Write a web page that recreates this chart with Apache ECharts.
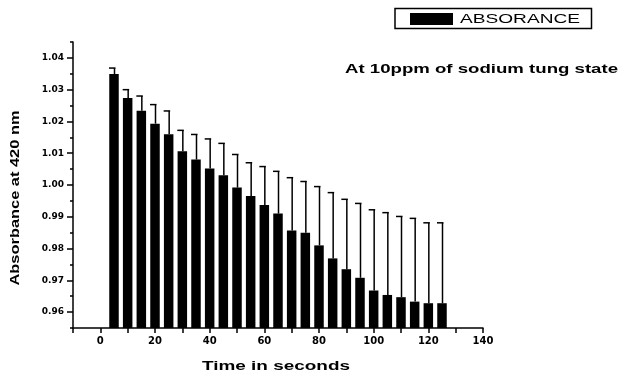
<!DOCTYPE html>
<html>
<head>
<meta charset="utf-8">
<script src="https://cdn.jsdelivr.net/npm/echarts@6/dist/echarts.min.js"></script>
<style>
    html, body { margin: 0; padding: 0; background: #fff; }
    #main { width: 620px; height: 373px; }
</style>
</head>
<body>
<div id="main"></div>
<script>
// time in seconds
var times = [5, 10, 15, 20, 25, 30, 35, 40, 45, 50, 55, 60, 65, 70, 75, 80, 85, 90, 95, 100, 105, 110, 115, 120, 125]
// absorbance at 420 nm
var absorbance = [1.0349, 1.0274, 1.0234, 1.0193, 1.0160, 1.0106, 1.0080, 1.0052, 1.0031, 0.9992, 0.9965, 0.9937, 0.9910,
    0.9857, 0.9850, 0.9810, 0.9769, 0.9735, 0.9708, 0.9668, 0.9654, 0.9647, 0.9633, 0.9628, 0.9628]
// upper error bar
var absorbanceError = [0.0019, 0.0026, 0.0046, 0.0060, 0.0073, 0.0066, 0.0079, 0.0093, 0.0100, 0.0104, 0.0105, 0.0121, 0.0133,
    0.0166, 0.0161, 0.0185, 0.0207, 0.0220, 0.0234, 0.0254, 0.0259, 0.0254, 0.0262, 0.0253, 0.0253]

var xTicks = [-10, 0, 10, 20, 30, 40, 50, 60, 70, 80, 90, 100, 110, 120, 130, 140]
var xLabels = [0, 20, 40, 60, 80, 100, 120, 140]
var yTicks = [0.96, 0.97, 0.98, 0.99, 1.00, 1.01, 1.02, 1.03, 1.04]
var yMinorTicks = [0.955, 0.965, 0.975, 0.985, 0.995, 1.005, 1.015, 1.025, 1.035, 1.045]

var legendName = 'ABSORANCE'
var xTitle = 'Time in seconds'
var yTitle = 'Absorbance at 420 nm'
var note = 'At 10ppm of sodium tung state'

var measure = document.createElement('canvas').getContext('2d')
// stretch a text horizontally so that it fills the given width
function stretch(text, font, width) {
    measure.font = font
    return width / measure.measureText(text).width
}

var titleFont = 'Liberation Sans'
var myChart = echarts.init(document.getElementById('main'))

myChart.setOption({
    animation: false,
    grid: { left: 73, right: 137, top: 42, bottom: 45, outerBoundsMode: 'none' },
    xAxis: {
        type: 'value',
        min: -10,
        max: 140,
        splitLine: { show: false },
        axisLine: { onZero: false, lineStyle: { color: '#000', width: 1.5 } },
        axisTick: { show: true, length: 5, customValues: xTicks, lineStyle: { color: '#000', width: 1.5 } },
        axisLabel: { customValues: xLabels, color: '#000', fontSize: 10, fontWeight: 'bold', fontFamily: 'DejaVu Sans', margin: 8 }
    },
    yAxis: [
        {
            type: 'value',
            min: 0.955,
            max: 1.045,
            splitLine: { show: false },
            axisLine: { show: true, onZero: false, lineStyle: { color: '#000', width: 1.5 } },
            axisTick: { show: true, length: 6, customValues: yTicks, lineStyle: { color: '#000', width: 1.5 } },
            axisLabel: {
                customValues: yTicks,
                formatter: function (v) { return v.toFixed(2) },
                color: '#000', fontSize: 9, fontWeight: 'bold', fontFamily: 'DejaVu Sans', margin: 9
            }
        },
        {
            // minor ticks only
            type: 'value',
            min: 0.955,
            max: 1.045,
            position: 'left',
            splitLine: { show: false },
            axisLine: { show: false, onZero: false },
            axisTick: { show: true, length: 3, customValues: yMinorTicks, lineStyle: { color: '#000', width: 1.5 } },
            axisLabel: { show: false }
        }
    ],
    graphic: [
        // legend box
        {
            type: 'rect', shape: { x: 395, y: 8.5, width: 196.5, height: 20 },
            style: { fill: '#fff', stroke: '#000', lineWidth: 1.5 }
        },
        {
            type: 'rect', shape: { x: 410, y: 13, width: 43, height: 12 },
            style: { fill: '#000' }
        },
        {
            type: 'text', x: 460, y: 19,
            scaleX: stretch(legendName, '13px ' + titleFont, 120),
            style: { text: legendName, fill: '#000', fontSize: 13, fontFamily: titleFont, align: 'left', verticalAlign: 'middle' }
        },
        {
            type: 'text', x: 345, y: 70,
            scaleX: stretch(note, 'bold 12px ' + titleFont, 273),
            style: { text: note, fill: '#000', fontSize: 12, fontWeight: 'bold', fontFamily: titleFont, align: 'left', verticalAlign: 'middle' }
        },
        {
            type: 'text', x: 202, y: 366,
            scaleX: stretch(xTitle, 'bold 13px ' + titleFont, 148),
            style: { text: xTitle, fill: '#000', fontSize: 13, fontWeight: 'bold', fontFamily: titleFont, align: 'left', verticalAlign: 'middle' }
        },
        {
            type: 'text', x: 15, y: 198, rotation: Math.PI / 2,
            scaleX: stretch(yTitle, 'bold 13px ' + titleFont, 175),
            style: { text: yTitle, fill: '#000', fontSize: 13, fontWeight: 'bold', fontFamily: titleFont, align: 'center', verticalAlign: 'middle' }
        }
    ],
    series: [
        {
            name: legendName,
            type: 'bar',
            barWidth: 9.5,
            clip: true,
            itemStyle: { color: '#000' },
            data: times.map(function (t, i) { return [t, absorbance[i]] })
        },
        {
            name: 'error',
            type: 'custom',
            clip: true,
            encode: { x: 0, y: 1 },
            renderItem: function (params, api) {
                var base = api.coord([api.value(0), api.value(1)])
                var top = api.coord([api.value(0), api.value(1) + api.value(2)])
                return {
                    type: 'group',
                    children: [
                        { type: 'line', shape: { x1: base[0] + 0.5, y1: base[1], x2: base[0] + 0.5, y2: top[1] }, style: { stroke: '#000', lineWidth: 1.5 } },
                        { type: 'line', shape: { x1: base[0] - 5, y1: top[1], x2: base[0] + 1.5, y2: top[1] }, style: { stroke: '#000', lineWidth: 1.5 } }
                    ]
                }
            },
            data: times.map(function (t, i) { return [t, absorbance[i], absorbanceError[i]] })
        }
    ]
})
</script>
</body>
</html>
